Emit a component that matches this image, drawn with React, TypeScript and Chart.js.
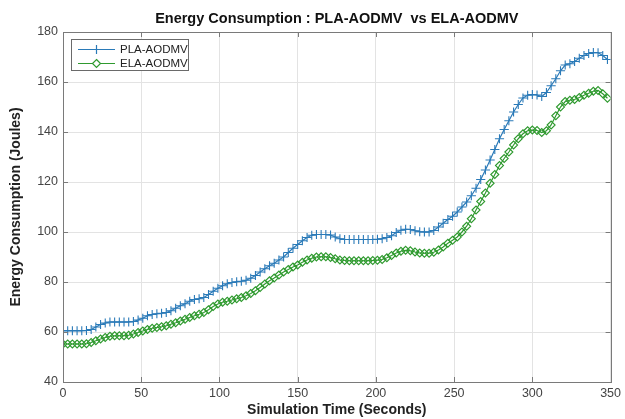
import React, { useEffect, useRef } from "react";
import { Chart, registerables } from "chart.js";

Chart.register(...registerables);

const TITLE = "Energy Consumption : PLA-AODMV  vs ELA-AODMV";
const X_TITLE = "Simulation Time (Seconds)";
const Y_TITLE = "Energy Consumption (Joules)";
const SERIES_NAMES = ["PLA-AODMV", "ELA-AODMV"];

const TIMES = [
  0, 3, 6, 9, 12, 15, 18, 21, 24, 27, 30, 33, 36, 39, 42, 45, 48, 51, 54, 57,
  60, 63, 66, 69, 72, 75, 78, 81, 84, 87, 90, 93, 96, 99, 102, 105, 108, 111, 114, 117,
  120, 123, 126, 129, 132, 135, 138, 141, 144, 147, 150, 153, 156, 159, 162, 165, 168, 171, 174, 177,
  180, 183, 186, 189, 192, 195, 198, 201, 204, 207, 210, 213, 216, 219, 222, 225, 228, 231, 234, 237,
  240, 243, 246, 249, 252, 255, 258, 261, 264, 267, 270, 273, 276, 279, 282, 285, 288, 291, 294, 297,
  300, 303, 306, 309, 312, 315, 318, 321, 324, 327, 330, 333, 336, 339, 342, 345, 348,
];

const PLA = [
  60.5, 60.5, 60.5, 60.5, 60.5, 60.6, 61, 62, 63, 63.6, 64, 64, 64, 64, 64, 64.2, 64.8, 65.5, 66.5, 67,
  67.3, 67.5, 67.8, 68.5, 69.5, 70.5, 71.3, 72.3, 73, 73.3, 73.8, 75, 76.3, 77.5, 78.5, 79.3, 79.8, 80.1, 80.3, 80.7,
  81.5, 82.6, 84, 85.3, 86.5, 87.5, 88.8, 90, 91.8, 93.5, 95, 96.5, 97.8, 98.7, 99, 99, 99, 98.8, 98, 97.3,
  97, 97, 97, 97, 97, 97, 97, 97.1, 97.3, 97.8, 98.5, 99.8, 100.7, 101.1, 101, 100.5, 100.1, 100, 100, 100.6,
  102, 103.5, 105, 106.3, 108, 110, 112, 114.5, 117.5, 121, 124.8, 128.8, 133, 137.3, 141, 144.5, 148, 151, 153.6, 154.7,
  155, 154.8, 154.2, 155.8, 158.5, 161.3, 164.5, 166.8, 167.3, 168.2, 169.5, 170.6, 171.4, 171.8, 171.7, 170.6, 169,
];

const ELA = [
  55.2, 55.2, 55.2, 55.2, 55.2, 55.3, 55.8, 56.5, 57.2, 57.8, 58.3, 58.5, 58.5, 58.5, 58.7, 59.2, 59.8, 60.4, 61, 61.5,
  61.8, 62.1, 62.5, 63.1, 63.7, 64.4, 65.1, 65.8, 66.5, 67.1, 67.8, 68.9, 70.2, 71.2, 71.9, 72.3, 72.8, 73.3, 73.8, 74.5,
  75.4, 76.5, 77.8, 79.2, 80.5, 81.6, 82.8, 84, 85, 86, 86.8, 87.9, 88.8, 89.5, 90, 90.1, 90.1, 89.8, 89.3, 88.8,
  88.6, 88.5, 88.5, 88.5, 88.5, 88.5, 88.6, 88.7, 89, 89.7, 90.6, 91.6, 92.3, 92.7, 92.5, 92, 91.6, 91.5, 91.5, 91.9,
  92.8, 94, 95.5, 96.7, 98, 100, 102.3, 105.3, 108.8, 112.2, 115.6, 119.5, 123, 126.6, 129.4, 132, 134.8, 137.3, 139.3, 140.5,
  140.8, 140.6, 139.8, 140.5, 142.8, 146.5, 150, 152.2, 152.7, 153, 153.8, 154.7, 155.5, 156.3, 156.6, 155.3, 153.5,
];

const X_MIN = 0;
const X_MAX = 350;
const X_STEP = 50;
const Y_MIN = 40;
const Y_MAX = 180;
const Y_STEP = 20;

const BLUE = "#2a7ab8";
const GREEN = "#2f9a2f";
const FONT = "'Liberation Sans', Arial, Helvetica, sans-serif";

const boxPlugin = {
  id: "matlabBox",
  afterDatasetsDraw(chart: any) {
    const { ctx, chartArea: a, scales } = chart;
    ctx.save();
    ctx.strokeStyle = "#7a7a7a";
    ctx.lineWidth = 1;
    ctx.beginPath();
    const xs = scales.x;
    const ys = scales.y;
    xs.ticks.forEach((t: any) => {
      const px = Math.round(xs.getPixelForValue(t.value)) + 0.5;
      ctx.moveTo(px, a.bottom);
      ctx.lineTo(px, a.bottom - 5);
      ctx.moveTo(px, a.top);
      ctx.lineTo(px, a.top + 5);
    });
    ys.ticks.forEach((t: any) => {
      const py = Math.round(ys.getPixelForValue(t.value)) + 0.5;
      ctx.moveTo(a.left, py);
      ctx.lineTo(a.left + 5, py);
      ctx.moveTo(a.right, py);
      ctx.lineTo(a.right - 5, py);
    });
    ctx.stroke();
    ctx.strokeRect(Math.round(a.left) + 0.5, Math.round(a.top) + 0.5, Math.round(a.right - a.left), Math.round(a.bottom - a.top));

    // legend box (MATLAB style, inside the axes)
    const lx = a.left + 8;
    const ly = a.top + 7;
    const lw = 117;
    const lh = 31;
    ctx.fillStyle = "#ffffff";
    ctx.fillRect(lx, ly, lw, lh);
    ctx.strokeStyle = "#6a6a6a";
    ctx.strokeRect(lx + 0.5, ly + 0.5, lw, lh);
    const rows = [
      { name: SERIES_NAMES[0], color: BLUE, style: "cross", y: ly + 10.5 },
      { name: SERIES_NAMES[1], color: GREEN, style: "diamond", y: ly + 24.5 },
    ];
    rows.forEach((r) => {
      ctx.strokeStyle = r.color;
      ctx.lineWidth = 1.2;
      ctx.beginPath();
      ctx.moveTo(lx + 7, r.y);
      ctx.lineTo(lx + 44, r.y);
      ctx.stroke();
      const mx = lx + 25.5;
      ctx.beginPath();
      if (r.style === "cross") {
        ctx.moveTo(mx, r.y - 4.5);
        ctx.lineTo(mx, r.y + 4.5);
        ctx.moveTo(mx - 4.5, r.y);
        ctx.lineTo(mx + 4.5, r.y);
      } else {
        ctx.moveTo(mx, r.y - 4);
        ctx.lineTo(mx + 4, r.y);
        ctx.lineTo(mx, r.y + 4);
        ctx.lineTo(mx - 4, r.y);
        ctx.closePath();
        ctx.fillStyle = "#ffffff";
        ctx.fill();
      }
      ctx.stroke();
      ctx.fillStyle = "#222222";
      ctx.font = `11.5px ${FONT}`;
      ctx.textBaseline = "middle";
      ctx.textAlign = "left";
      ctx.fillText(r.name, lx + 49, r.y);
    });
    ctx.restore();
  },
};

export default function App() {
  const canvasRef = useRef<HTMLCanvasElement | null>(null);

  useEffect(() => {
    document.body.style.margin = "0";
    const canvas = canvasRef.current;
    if (!canvas) return;
    const chart = new Chart(canvas, {
      type: "line",
      data: {
        datasets: [
          {
            label: SERIES_NAMES[0],
            data: TIMES.map((t, i) => ({ x: t, y: PLA[i] })),
            borderColor: BLUE,
            backgroundColor: BLUE,
            borderWidth: 1.2,
            pointStyle: "cross",
            pointRadius: 4.6,
            pointBorderWidth: 1.1,
            pointBorderColor: BLUE,
            tension: 0,
            fill: false,
          },
          {
            label: SERIES_NAMES[1],
            data: TIMES.map((t, i) => ({ x: t, y: ELA[i] })),
            borderColor: GREEN,
            backgroundColor: "rgba(255,255,255,0)",
            borderWidth: 1.2,
            pointStyle: "rectRot",
            pointRadius: 4,
            pointBorderWidth: 1.1,
            pointBorderColor: GREEN,
            pointBackgroundColor: "rgba(255,255,255,0)",
            tension: 0,
            fill: false,
          },
        ],
      },
      options: {
        animation: false,
        responsive: false,
        maintainAspectRatio: false,
        layout: { padding: { left: 0, right: 9, top: 0, bottom: 0 } },
        plugins: {
          legend: { display: false },
          tooltip: { enabled: false },
          title: {
            display: true,
            fullSize: false,
            text: TITLE,
            color: "#111111",
            font: { family: FONT, size: 14.5, weight: "bold" },
            padding: { top: 10, bottom: 4.6 },
          },
        },
        scales: {
          x: {
            type: "linear",
            min: X_MIN,
            max: X_MAX,
            afterFit(scale: any) {
              scale.height = 37;
            },
            afterBuildTicks(scale: any) {
              const arr = [];
              for (let v = X_MIN; v <= X_MAX; v += X_STEP) arr.push({ value: v });
              scale.ticks = arr;
            },
            grid: { color: "#e3e3e3", drawTicks: false, lineWidth: 1 },
            border: { display: false },
            ticks: {
              color: "#444444",
              font: { family: FONT, size: 12.5 },
              padding: 4,
              maxRotation: 0,
            },
            title: {
              display: true,
              text: X_TITLE,
              color: "#222222",
              font: { family: FONT, size: 14, weight: "bold" },
              padding: { top: 0, bottom: 0.5 },
            },
          },
          y: {
            type: "linear",
            min: Y_MIN,
            max: Y_MAX,
            afterFit(scale: any) {
              scale.width = 63;
            },
            afterBuildTicks(scale: any) {
              const arr = [];
              for (let v = Y_MIN; v <= Y_MAX; v += Y_STEP) arr.push({ value: v });
              scale.ticks = arr;
            },
            grid: { color: "#e3e3e3", drawTicks: false, lineWidth: 1 },
            border: { display: false },
            ticks: {
              color: "#444444",
              font: { family: FONT, size: 12.5 },
              padding: 5,
            },
            title: {
              display: true,
              text: Y_TITLE,
              color: "#222222",
              font: { family: FONT, size: 14, weight: "bold" },
              padding: { top: 8, bottom: 0 },
            },
          },
        },
      },
      plugins: [boxPlugin],
    });
    return () => chart.destroy();
  }, []);

  return (
    <div style={{ width: 625, height: 419, background: "#ffffff" }}>
      <canvas ref={canvasRef} width={625} height={419} style={{ display: "block" }} />
    </div>
  );
}
